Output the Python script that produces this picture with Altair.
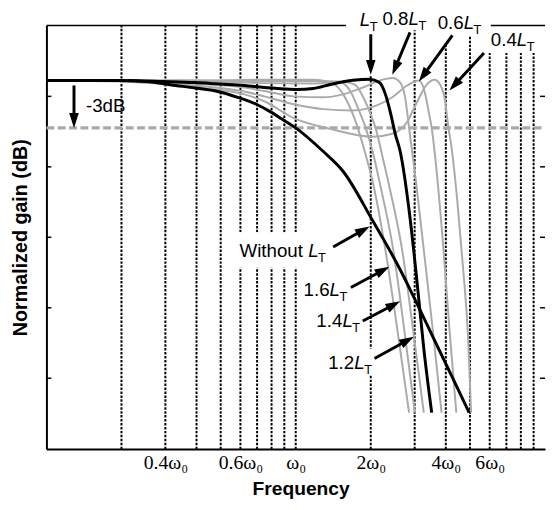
import math
import altair as alt
import pandas as pd

W, H = 506, 430
X_DOMAIN = [0.1, 10.0]
Y_DOMAIN = [-23.375, 3.5]

# ---- curves (frequency in units of w0, gain in dB) ----
without_w = [0.1, 0.198, 0.251, 0.330, 0.395, 0.487, 0.585, 0.695, 0.796, 0.880, 1.0, 1.29, 1.548, 2.034, 2.625, 2.927, 3.511, 4.212, 4.96]
without_g = [0, 0, -0.06, -0.31, -0.47, -0.69, -1.06, -1.5, -2.0, -2.44, -3.0, -4.5, -5.75, -8.875, -12.0, -13.5, -16.1, -18.7, -21.06]

lt10_w = [0.1, 0.198, 0.293, 0.395, 0.496, 0.623, 0.747, 0.897, 1.009, 1.178, 1.375, 1.695, 1.979, 2.168, 2.290, 2.396, 2.507, 2.625, 2.874, 3.063, 3.264, 3.511]
lt10_g = [0, 0, -0.06, -0.125, -0.22, -0.31, -0.44, -0.53, -0.56, -0.5, -0.25, 0.02, 0.09, -0.125, -0.875, -2.0, -3.375, -4.5, -8.7, -12.7, -17.0, -21.06]

lt16_w = [0.1, 0.395, 0.747, 1.178, 1.413, 1.576, 1.695, 1.774, 1.891, 2.034, 2.290, 2.554, 2.849]
lt16_g = [0, 0, 0.06, 0.06, -0.19, -1.06, -2.125, -3.0, -4.5, -6.375, -10.75, -15.75, -21.06]

lt14_w = [0.1, 0.395, 0.747, 1.178, 1.479, 1.650, 1.791, 1.908, 2.034, 2.187, 2.462, 2.722, 3.008]
lt14_g = [0, 0, -0.03, -0.03, -0.06, -0.625, -1.875, -3.0, -4.5, -6.69, -10.75, -15.75, -21.06]

lt12_w = [0.1, 0.395, 0.747, 1.178, 1.548, 1.727, 1.891, 1.997, 2.090, 2.228, 2.396, 2.673, 2.953, 3.264]
lt12_g = [0, -0.03, -0.16, -0.19, -0.09, -0.25, -1.25, -2.125, -3.0, -4.81, -7.0, -10.75, -15.75, -21.06]

lt08_w = [0.1, 0.198, 0.395, 0.623, 0.747, 0.982, 1.290, 1.548, 1.857, 2.228, 2.440, 2.625, 2.747, 2.849, 3.035, 3.264, 3.543, 3.846]
lt08_g = [0, 0, -0.19, -0.44, -0.66, -1.0, -1.06, -0.875, -0.44, 0.06, 0.16, -0.125, -1.06, -3.0, -6.375, -10.75, -15.75, -21.06]

lt06_w = [0.1, 0.198, 0.395, 0.623, 0.747, 0.982, 1.290, 1.695, 2.128, 2.440, 2.797, 3.119, 3.295, 3.417, 3.511, 3.675, 3.916, 4.136, 4.408]
lt06_g = [0, -0.03, -0.31, -0.69, -1.0, -1.5, -1.81, -1.9, -1.56, -1.06, -0.31, 0.0, -0.75, -2.0, -3.0, -5.75, -10.75, -15.75, -21.06]

lt04_w = [0.1, 0.198, 0.395, 0.623, 0.747, 0.982, 1.375, 2.034, 2.440, 2.797, 3.063, 3.355, 3.608, 3.846, 3.952, 4.099, 4.212, 4.448, 4.698, 4.918, 5.053]
lt04_g = [0, -0.06, -0.44, -0.875, -1.31, -2.375, -3.06, -3.56, -3.375, -2.625, -1.375, -0.25, 0.06, -0.44, -1.06, -3.0, -4.19, -7.625, -12.0, -16.375, -21.06]

gray_series = {"1.6LT": (lt16_w, lt16_g), "1.4LT": (lt14_w, lt14_g), "1.2LT": (lt12_w, lt12_g),
               "0.8LT": (lt08_w, lt08_g), "0.6LT": (lt06_w, lt06_g), "0.4LT": (lt04_w, lt04_g)}
black_series = {"Without LT": (without_w, without_g), "LT": (lt10_w, lt10_g)}

# ---- axes / grid ----
xlabel_pos = [0.3, 0.6, 1, 2, 4, 6]
xlabel_txt = ["0.4ω₀", "0.6ω₀", "ω₀", "2ω₀", "4ω₀", "6ω₀"]
grid_w = [0.2, 0.3, 0.4, 0.5, 0.6, 0.7, 0.8, 0.9, 1, 2, 3, 4, 5, 6, 7, 8, 9]
grid_top = [3.5] * 9 + [0.375, 3.19, 2.19, 2.875, 1.75, 1.75, 1.75, 1.75]
ytick_vals = [-1.0, -5.47, -9.94, -14.41, -18.88]
minus3 = -3.0
top_frame_from = [0.1, 6.06]
top_frame_to = [1.59, 10.0]

# ---- annotations ----
label_prefix = ["-3dB", "", "0.8", "0.6", "0.4", "Without ", "1.6", "1.4", "1.2"]
label_has_L = [False, True, True, True, True, True, True, True, True]
label_w = [0.144, 1.807, 2.228, 3.709, 6.06, 0.595, 1.075, 1.21, 1.35]
label_g = [-2.0, 3.44, 3.5, 3.25, 2.19, -11.19, -13.69, -15.625, -18.31]

arrow_start_w = [0.129, 2.0, 2.874, 4.25, 5.69, 1.413, 1.665, 1.857, 2.071]
arrow_start_g = [-0.31, 2.94, 3.06, 2.875, 1.75, -10.56, -13.125, -15.25, -17.625]
arrow_tip_w = [0.129, 2.0, 2.44, 3.119, 4.136, 1.979, 2.375, 2.625, 2.981]
arrow_tip_g = [-3.0, 0.375, 0.375, -0.0625, -0.625, -9.25, -11.81, -14.0, -16.25]

# white label backgrounds (hide dotted grid under text)
bg_w1 = [0.569, 1.326]
bg_w2 = [1.791, 2.11]
bg_g1 = [-9.625, -17.0]
bg_g2 = [-11.875, -18.69]

FONT = "Liberation Sans"
FS = 19
CHAR_W = {"0": .556, "1": .556, "2": .556, "3": .556, "4": .556, "5": .556, "6": .556, "7": .556, "8": .556,
          "9": .556, ".": .278, "W": .944, "i": .222, "t": .278, "h": .556, "o": .556, "u": .556, " ": .278,
          "-": .333, "d": .556, "B": .667}

LOGSPAN = math.log10(X_DOMAIN[1] / X_DOMAIN[0])


def to_px(w):
    return math.log10(w / X_DOMAIN[0]) / LOGSPAN * W


def to_py(g):
    return (Y_DOMAIN[1] - g) / (Y_DOMAIN[1] - Y_DOMAIN[0]) * H


def from_px(p):
    return X_DOMAIN[0] * 10 ** (p / W * LOGSPAN)


def from_py(p):
    return Y_DOMAIN[1] - p / H * (Y_DOMAIN[1] - Y_DOMAIN[0])


def shift_w(w, dpx):
    return from_px(to_px(w) + dpx)


# ---- build tables ----
def curve_df(d):
    rows = []
    for name, (ws, gs) in d.items():
        for i, (w, g) in enumerate(zip(ws, gs)):
            rows.append({"series": name, "w": w, "g": g, "i": i})
    return pd.DataFrame(rows)


gray_df = curve_df(gray_series)
black_df = curve_df(black_series)
grid_df = pd.DataFrame({"w": grid_w, "bot": [Y_DOMAIN[0]] * len(grid_w), "top": grid_top})
ytick_df = pd.DataFrame({"g": ytick_vals})
frame_df = pd.DataFrame({"w1": top_frame_from, "w2": top_frame_to})
m3_df = pd.DataFrame({"w1": [X_DOMAIN[0]], "w2": [X_DOMAIN[1]], "g": [minus3]})
bg_df = pd.DataFrame({"w1": bg_w1, "w2": bg_w2, "g1": bg_g1, "g2": bg_g2})

main_rows, l_rows, t_rows = [], [], []
for pre, hasL, w, g in zip(label_prefix, label_has_L, label_w, label_g):
    if pre:
        main_rows.append({"w": w, "g": g, "t": pre})
    if hasL:
        pw = sum(CHAR_W.get(c, 0.55) for c in pre) * FS
        l_rows.append({"w": shift_w(w, pw), "g": g, "t": "L"})
        t_rows.append({"w": shift_w(w, pw + 0.556 * FS - 0.5), "g": from_py(to_py(g) + 5), "t": "T"})
main_df = pd.DataFrame(main_rows)
l_df = pd.DataFrame(l_rows)
t_df = pd.DataFrame(t_rows)

shaft_rows, head_rows = [], []
for sw, sg, tw, tg in zip(arrow_start_w, arrow_start_g, arrow_tip_w, arrow_tip_g):
    x0, y0, x1, y1 = to_px(sw), to_py(sg), to_px(tw), to_py(tg)
    L = math.hypot(x1 - x0, y1 - y0)
    ux, uy = (x1 - x0) / L, (y1 - y0) / L
    ex, ey = x1 - ux * 9, y1 - uy * 9
    shaft_rows.append({"w1": sw, "g1": sg, "w2": from_px(ex), "g2": from_py(ey)})
    ang = math.degrees(math.atan2(ux, -uy)) % 360
    head_rows.append({"w": tw, "g": tg, "ang": ang})
shaft_df = pd.DataFrame(shaft_rows)
head_df = pd.DataFrame(head_rows)

# ---- encodings ----
xscale = alt.Scale(type="log", domain=X_DOMAIN, nice=False)
yscale = alt.Scale(domain=Y_DOMAIN, nice=False, zero=False)

label_expr = " : ".join(f"datum.value == {v} ? '{t}'" for v, t in zip(xlabel_pos, xlabel_txt)) + " : ''"
xaxis = alt.Axis(values=xlabel_pos, labelExpr=label_expr, ticks=False, tickSize=0, grid=False,
                 domainColor="black", domainWidth=2, labelFont="Liberation Serif", labelFontSize=20,
                 labelColor="black", labelPadding=20, labelBaseline="alphabetic", labelFlush=False,
                 labelOverlap=False, title="Frequency", titleFont=FONT, titleFontSize=19.5,
                 titleFontWeight="bold", titleColor="black", titleX=258, titleY=46,
                 titleBaseline="alphabetic")
yaxis = alt.Axis(labels=False, ticks=False, tickSize=0, grid=False, domainColor="black", domainWidth=2,
                 title="Normalized gain (dB)", titleFont=FONT, titleFontSize=20, titleFontWeight="bold",
                 titleColor="black", titleAngle=270, titleX=-20, titleY=H / 2, titleAlign="center",
                 titleBaseline="alphabetic")


def X(f):
    return alt.X(f, type="quantitative", scale=xscale, axis=xaxis)


def Y(f):
    return alt.Y(f, type="quantitative", scale=yscale, axis=yaxis)


grid = alt.Chart(grid_df).mark_rule(color="black", strokeWidth=2, strokeDash=[2.5, 1.5]).encode(
    x=X("w"), y=Y("bot"), y2="top")
frame = alt.Chart(frame_df).mark_rule(color="black", strokeWidth=1.5).encode(
    x=X("w1"), x2="w2", y=alt.value(0))
ticks_l = alt.Chart(ytick_df).mark_rule(color="black", strokeWidth=1.5).encode(
    y=Y("g"), x=alt.value(0), x2=alt.value(5))
ticks_r = alt.Chart(ytick_df).mark_rule(color="black", strokeWidth=1.5).encode(
    y=Y("g"), x=alt.value(W - 5), x2=alt.value(W))
m3 = alt.Chart(m3_df).mark_rule(color="#a9a9a9", strokeWidth=3.2, strokeDash=[8, 3.5]).encode(
    x=X("w1"), x2="w2", y=Y("g"))
gray = alt.Chart(gray_df).mark_line(color="#aaaaaa", strokeWidth=2, interpolate="monotone").encode(
    x=X("w"), y=Y("g"), detail="series:N", order="i:Q")
black = alt.Chart(black_df).mark_line(color="black", strokeWidth=3, interpolate="monotone").encode(
    x=X("w"), y=Y("g"), detail="series:N", order="i:Q")
bg = alt.Chart(bg_df).mark_rect(color="white").encode(x=X("w1"), x2="w2", y=Y("g1"), y2="g2")
txt_main = alt.Chart(main_df).mark_text(align="left", baseline="alphabetic", font=FONT, fontSize=FS,
                                        color="black").encode(x=X("w"), y=Y("g"), text="t:N")
txt_l = alt.Chart(l_df).mark_text(align="left", baseline="alphabetic", font=FONT, fontSize=FS,
                                  fontStyle="italic", color="black").encode(x=X("w"), y=Y("g"), text="t:N")
txt_t = alt.Chart(t_df).mark_text(align="left", baseline="alphabetic", font=FONT, fontSize=13,
                                  color="black").encode(x=X("w"), y=Y("g"), text="t:N")
shafts = alt.Chart(shaft_df).mark_rule(color="black", strokeWidth=3).encode(
    x=X("w1"), x2="w2", y=Y("g1"), y2="g2")
heads = alt.Chart(head_df).mark_point(shape="M0,0L0.65,2L-0.65,2Z", size=225, filled=True,
                                      color="black", opacity=1, strokeWidth=0).encode(
    x=X("w"), y=Y("g"), angle=alt.Angle("ang:Q", scale=None))

chart = alt.layer(grid, m3, gray, black, bg, frame, ticks_l, ticks_r, txt_main, txt_l, txt_t,
                  shafts, heads).properties(
    width=W, height=H,
    autosize=alt.AutoSizeParams(type="none"),
    padding={"left": 39, "top": 14, "right": 1, "bottom": 50},
).configure_view(stroke=None)

chart.save("out.html", embed_options={"renderer": "svg", "actions": False})
